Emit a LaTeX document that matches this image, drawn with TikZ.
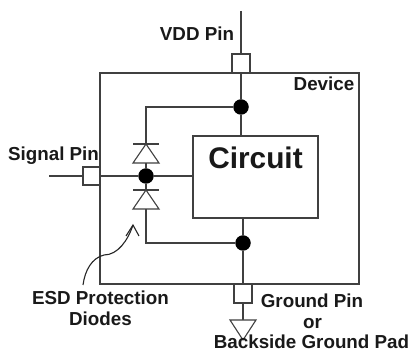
\documentclass[tikz,border=0pt]{standalone}
\usepackage{fontspec}
\setmainfont{Liberation Sans}
\begin{document}
\begin{tikzpicture}[x=1pt,y=-1pt,
  wire/.style={draw=black!75,line width=1.1pt},
  box/.style={draw=black!75,line width=1.1pt,fill=white,inner sep=0pt,outer sep=0pt,minimum width=#1},
  dotn/.style={circle,fill=black,inner sep=0pt,minimum size=15.5pt},
  lab/.style={font=\fontsize{18.8}{20}\selectfont\bfseries,inner sep=0pt,text=black!90,anchor=base}]
\useasboundingbox (0,0) rectangle (410,352);
% coordinates
\coordinate (vddend) at (241,11);
\coordinate (sigend) at (49,176);
\coordinate (leftcorner) at (146,107);
\coordinate (lowcorner) at (146,243);
\coordinate (arrs) at (83,285);
\coordinate (arre) at (133,225);
\coordinate (arrl) at (126,236);
\coordinate (arrr) at (139,236);
\coordinate (gndtop) at (243,320);
% device
\node[box=259pt,minimum height=211pt,fill=none] (device) at (229.5,178.5) {};
% dots
\node[dotn] (dtop) at (241,107) {};
\node[dotn] (dbot) at (243,243) {};
\node[dotn] (dsig) at (146,176) {};
% pins and circuit
\node[box=18pt,minimum height=19pt] (vddpin) at (241,63.5) {};
\node[box=18pt,minimum height=19pt] (gndpin) at (243,293.5) {};
\node[box=17pt,minimum height=18pt] (sigpin) at (91.5,176) {};
\node[box=125pt,minimum height=82pt] (circuit) at (255.5,177) {};
% wires
\draw[wire] (vddend) -- (vddpin.north);
\draw[wire] (vddpin.south) -- (dtop);
\draw[wire] (dtop) -- (circuit.north -| dtop);
\draw[wire] (dbot) -- (circuit.south -| dbot);
\draw[wire] (dbot) -- (gndpin.north);
\draw[wire] (gndpin.south) -- (gndtop);
\draw[wire] (sigend) -- (sigpin.west);
\draw[wire] (sigpin.east) -- (dsig);
\draw[wire] (dsig) -- (circuit.west |- dsig);
\draw[wire] (dtop) -- (leftcorner) -- (dsig);
\draw[wire] (dbot) -- (lowcorner) -- (dsig);
% diodes
\foreach \b/\t in {144/163,190/209}{
  \fill[white] (133,\t) -- (159,\t) -- (146,\b) -- cycle;
  \draw[wire,line join=miter] (133,\t) -- (159,\t) -- (146,\b) -- cycle;
  \draw[wire] (133,\b) -- (159,\b);
}
% ground symbol
\draw[wire,fill=white] (230,320) -- (256,320) -- (243,340) -- cycle;
% callout arrow
\draw[draw=black!85,line width=1.1pt] (arrs) .. controls (85,270) and (92,258) .. (104,255) .. controls (118,255) and (128,240) .. (arre);
\draw[draw=black!85,line width=1.1pt] (arrl) -- (arre) -- (arrr);
% labels
\node[lab] (lvdd) at (197,41) {VDD Pin};
\node[lab] (ldev) at (324,91) {Device};
\node[lab] (lsig) at (53.5,161) {Signal Pin};
\node[lab,font=\fontsize{29.8}{32}\selectfont\bfseries] (lcir) at (255.5,169) {Circuit};
\node[lab] (lesd) at (100.5,305) {ESD Protection};
\node[lab] (ldio) at (100.5,326) {Diodes};
\node[lab] (lgnd) at (312,308) {Ground Pin};
\node[lab] (lor) at (312.5,329) {or};
\node[lab] (lback) at (311.5,349) {Backside Ground Pad};
\end{tikzpicture}
\end{document}
